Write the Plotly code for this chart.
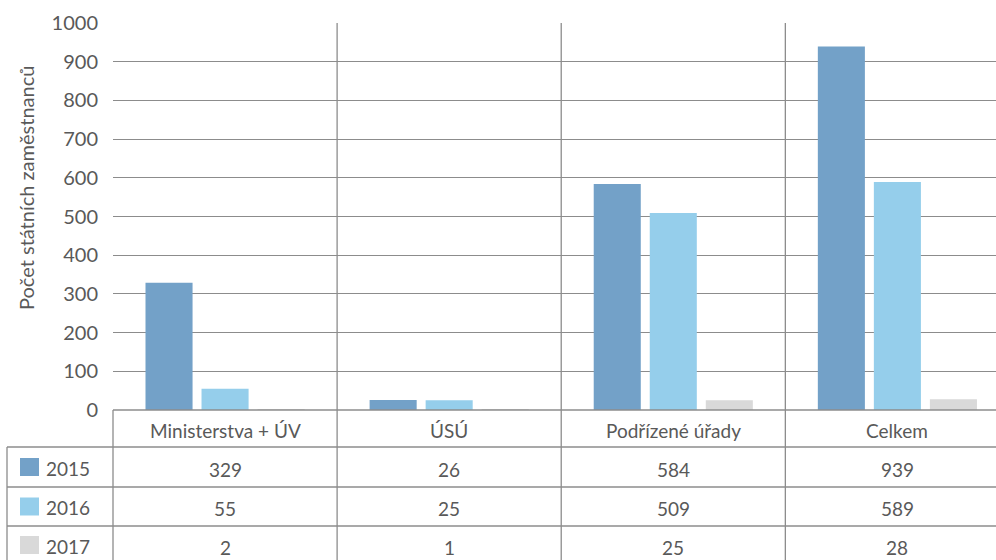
import plotly.graph_objects as go

# Data
categories = ["Ministerstva + ÚV", "ÚSÚ", "Podřízené úřady", "Celkem"]
years = ["2015", "2016", "2017"]
values_2015 = [329, 26, 584, 939]
values_2016 = [55, 25, 509, 589]
values_2017 = [2, 1, 25, 28]
series_values = [values_2015, values_2016, values_2017]
colors = ["#73A1C8", "#95CEEB", "#D9D9D9"]
y_ticks = list(range(0, 1001, 100))
y_title = "Počet státních zaměstnanců"

W, H = 996, 560
ML, MT, MB = 113, 23, 150
PLOT_W = W - ML
PLOT_H = H - MT - MB
TEXT = "#595959"
LINE = "#8c8c8c"
FONT = "Lato, 'Open Sans', sans-serif"


def px_x(p):
    return (p - ML) / PLOT_W


def px_y(p):
    return (H - MB - p) / PLOT_H


fig = go.Figure()
for name, vals, col in zip(years, series_values, colors):
    fig.add_trace(go.Bar(x=list(range(len(categories))), y=vals, name=name,
                         marker=dict(color=col, line=dict(width=0)),
                         showlegend=False, hoverinfo="x+y+name"))

shapes = []
# horizontal table rules
for yp, x0 in [(410, ML), (447, 7), (487, 7), (526, 7)]:
    shapes.append(dict(type="line", xref="paper", yref="paper",
                       x0=px_x(x0), x1=1, y0=px_y(yp), y1=px_y(yp),
                       line=dict(color=LINE, width=1.3)))
# outer left rules of table
shapes.append(dict(type="line", xref="paper", yref="paper",
                   x0=px_x(7), x1=px_x(7), y0=px_y(447), y1=px_y(H),
                   line=dict(color=LINE, width=1.3)))
shapes.append(dict(type="line", xref="paper", yref="paper",
                   x0=0, x1=0, y0=px_y(410), y1=px_y(H),
                   line=dict(color=LINE, width=1.3)))
# category separators running through chart and table
for i in range(len(categories) - 1):
    shapes.append(dict(type="line", xref="x", yref="paper",
                       x0=i + 0.5, x1=i + 0.5, y0=1, y1=px_y(H),
                       line=dict(color=LINE, width=1.3)))
# legend keys
row_centers = [467, 506.5, 545]
for yc, col in zip(row_centers, colors):
    shapes.append(dict(type="rect", xref="paper", yref="paper",
                       x0=px_x(20), x1=px_x(39), y0=px_y(yc - 9), y1=px_y(yc + 9),
                       fillcolor=col, line=dict(width=0)))

annotations = []
for i, cat in enumerate(categories):
    annotations.append(dict(x=i, xref="x", y=px_y(430), yref="paper", text=cat,
                            showarrow=False, xanchor="center", yanchor="middle",
                            font=dict(size=19, color=TEXT, family=FONT)))
for yc, name, vals in zip(row_centers, years, series_values):
    annotations.append(dict(x=px_x(44), xref="paper", y=px_y(yc + 1), yref="paper",
                            text=name, showarrow=False, xanchor="left", yanchor="middle",
                            font=dict(size=19, color=TEXT, family=FONT)))
    for i, v in enumerate(vals):
        annotations.append(dict(x=i, xref="x", y=px_y(yc + 2), yref="paper",
                                text=str(v), showarrow=False, xanchor="center",
                                yanchor="middle",
                                font=dict(size=19, color=TEXT, family=FONT)))
annotations.append(dict(x=px_x(26), xref="paper", y=px_y(188), yref="paper",
                        text=y_title, textangle=-90, showarrow=False,
                        xanchor="center", yanchor="middle",
                        font=dict(size=20, color=TEXT, family=FONT)))

fig.update_layout(
    width=W, height=H,
    margin=dict(l=ML, r=0, t=MT, b=MB, pad=0),
    paper_bgcolor="white", plot_bgcolor="white",
    barmode="group", bargap=0.25, bargroupgap=0.16,
    font=dict(family=FONT, color=TEXT),
    shapes=shapes, annotations=annotations,
    xaxis=dict(range=[-0.5, 3.44], showticklabels=False, showgrid=False,
               zeroline=False, showline=False, fixedrange=True),
    yaxis=dict(range=[0, 1000], tickvals=y_ticks, showgrid=True,
               gridcolor=LINE, gridwidth=1.3, zeroline=False, showline=False,
               ticks="outside", ticklen=10, tickcolor="rgba(0,0,0,0)",
               tickfont=dict(size=20, color=TEXT, family=FONT), fixedrange=True),
)

fig.write_html("out.html")
